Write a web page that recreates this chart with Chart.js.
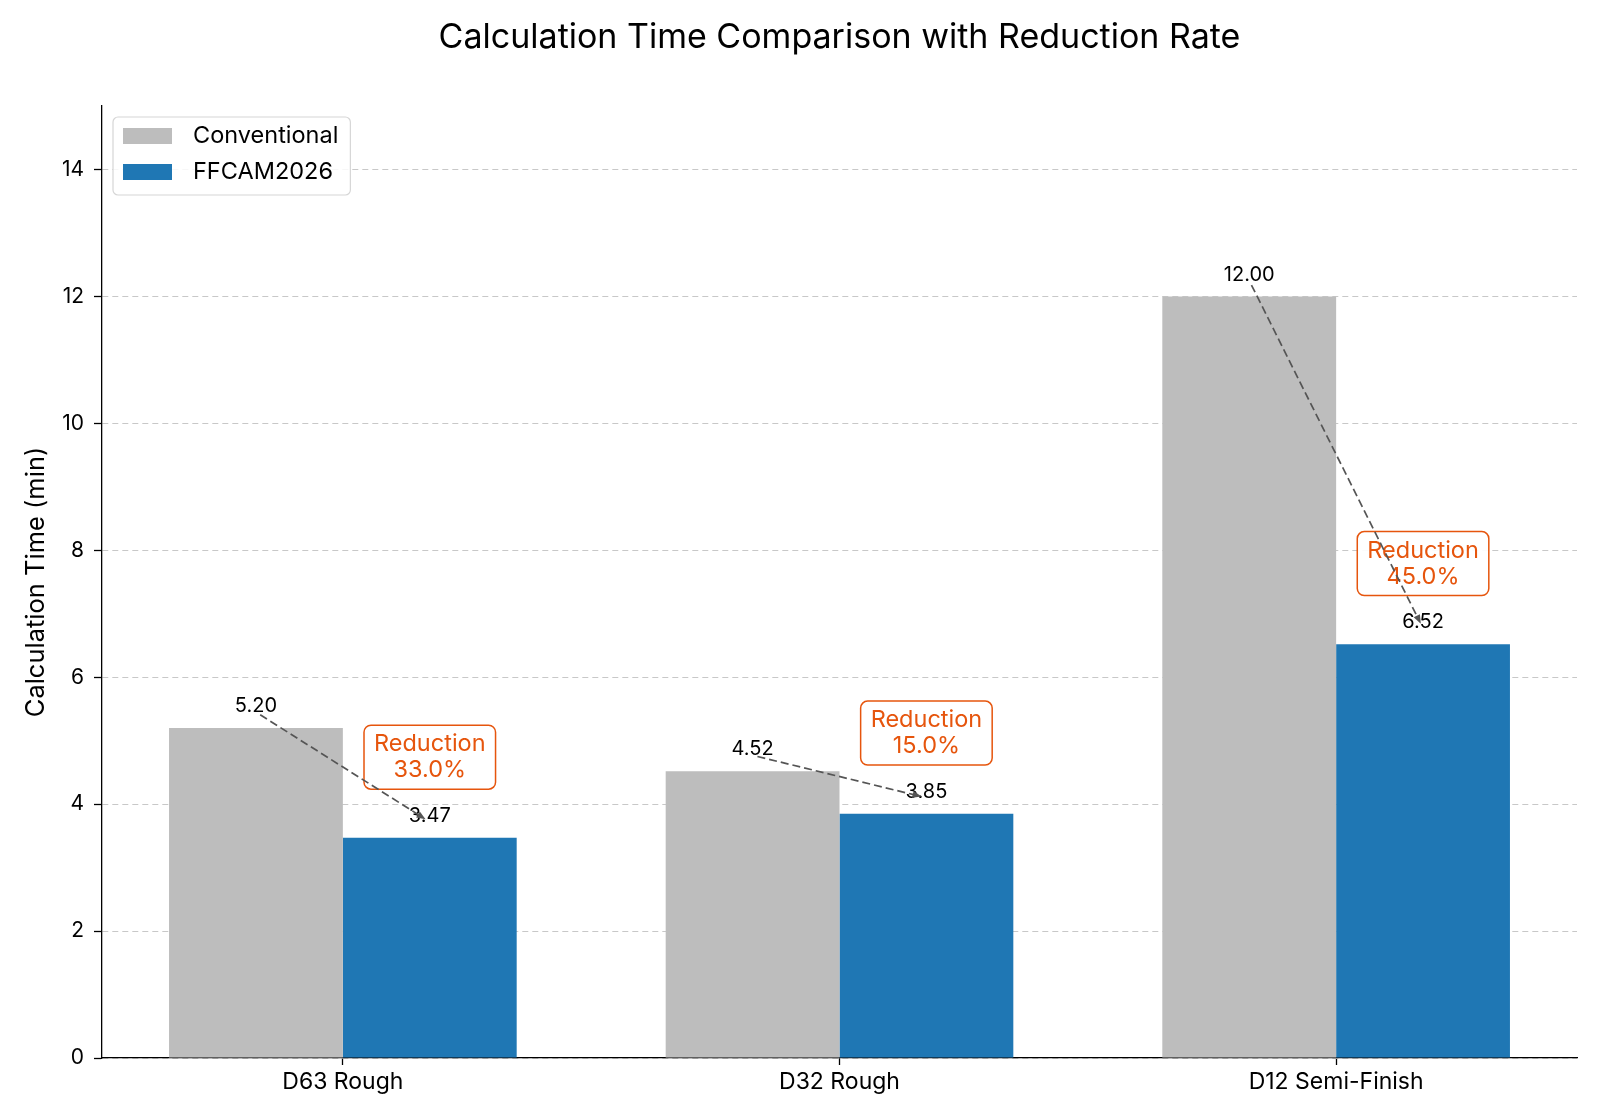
<!DOCTYPE html>
<html>
<head>
<meta charset="utf-8">
<title>Calculation Time Comparison with Reduction Rate</title>
<script src="https://cdn.jsdelivr.net/npm/chart.js@4.4.1/dist/chart.umd.min.js"></script>
<style>
  html, body { margin: 0; padding: 0; background: #fff; }
  #wrap { width: 1600px; height: 1120px; }
</style>
</head>
<body>
<div id="wrap"><canvas id="chart" width="1600" height="1120"></canvas></div>
<script>
// values
const categories = ['D63 Rough', 'D32 Rough', 'D12 Semi-Finish'];
const seriesNames = ['Conventional', 'FFCAM2026'];
const conventional = [5.20, 4.52, 12.00];
const ffcam = [3.47, 3.85, 6.52];
const reductionPct = [33.0, 15.0, 45.0];
const yTicks = [0, 2, 4, 6, 8, 10, 12, 14];

const FONT = 'Inter, "Open Sans", sans-serif';
const GRAY = '#bdbdbd';
const BLUE = '#1f77b4';
const ORANGE = '#e6550d';

function dashedArrow(ctx, x1, y1, x2, y2) {
  const dx = x2 - x1, dy = y2 - y1;
  const len = Math.hypot(dx, dy);
  const ux = dx / len, uy = dy / len;
  const sx = x1 + ux * 5, sy = y1 + uy * 5;
  const ex = x2 - ux * 5, ey = y2 - uy * 5;
  ctx.strokeStyle = '#555555';
  ctx.fillStyle = '#555555';
  ctx.lineWidth = 1.7;
  ctx.setLineDash([8, 4]);
  ctx.beginPath();
  ctx.moveTo(sx, sy);
  ctx.lineTo(ex - ux * 6, ey - uy * 6);
  ctx.stroke();
  ctx.setLineDash([]);
  // small arrow head
  ctx.beginPath();
  ctx.moveTo(ex, ey);
  ctx.lineTo(ex - ux * 9 - uy * 3.5, ey - uy * 9 + ux * 3.5);
  ctx.lineTo(ex - ux * 9 + uy * 3.5, ey - uy * 9 - ux * 3.5);
  ctx.closePath();
  ctx.fill();
}

const annotations = {
  id: 'annotations',
  afterDatasetsDraw(chart) {
    const ctx = chart.ctx;
    const y = chart.scales.y;
    const convBars = chart.getDatasetMeta(0).data;
    const newBars = chart.getDatasetMeta(1).data;
    ctx.save();

    // value labels above the bars
    ctx.font = '20px ' + FONT;
    ctx.fillStyle = '#000';
    ctx.textAlign = 'center';
    ctx.textBaseline = 'alphabetic';
    categories.forEach((c, i) => {
      ctx.fillText(conventional[i].toFixed(2), convBars[i].x, y.getPixelForValue(conventional[i] + 0.25));
      ctx.fillText(ffcam[i].toFixed(2), newBars[i].x, y.getPixelForValue(ffcam[i] + 0.25));
    });

    // reduction boxes
    ctx.font = '23.5px ' + FONT;
    categories.forEach((c, i) => {
      const cx = newBars[i].x;
      const cy = y.getPixelForValue(ffcam[i] + 1.27);
      const l1 = 'Reduction';
      const l2 = reductionPct[i].toFixed(1) + '%';
      const w = Math.max(ctx.measureText(l1).width, ctx.measureText(l2).width) + 20;
      const h = 64;
      ctx.beginPath();
      ctx.roundRect(cx - w / 2, cy - h / 2, w, h, 7);
      ctx.fillStyle = 'rgba(255,255,255,0.92)';
      ctx.fill();
      ctx.strokeStyle = ORANGE;
      ctx.lineWidth = 1.5;
      ctx.stroke();
      ctx.fillStyle = ORANGE;
      ctx.textBaseline = 'middle';
      ctx.fillText(l1, cx, cy - 13);
      ctx.fillText(l2, cx, cy + 13);
    });

    // dashed arrows from conventional to FFCAM labels
    categories.forEach((c, i) => {
      dashedArrow(ctx,
        convBars[i].x, y.getPixelForValue(conventional[i] + 0.25),
        newBars[i].x, y.getPixelForValue(ffcam[i] + 0.25));
    });
    ctx.restore();
  },
  afterDraw(chart) {
    const ctx = chart.ctx;
    const area = chart.chartArea;
    ctx.save();

    // legend box in the upper left corner
    ctx.font = '23.5px ' + FONT;
    const textW = Math.max(...seriesNames.map(s => ctx.measureText(s).width));
    const x0 = area.left + 11, y0 = area.top + 11;
    const w = 80 + textW + 12, h = 78;
    ctx.beginPath();
    ctx.roundRect(x0, y0, w, h, 5);
    ctx.fillStyle = 'rgba(255,255,255,0.85)';
    ctx.fill();
    ctx.strokeStyle = '#d6d6d6';
    ctx.lineWidth = 1.2;
    ctx.stroke();
    const colors = [GRAY, BLUE];
    seriesNames.forEach((s, i) => {
      const cy = y0 + 19 + i * 36;
      ctx.fillStyle = colors[i];
      ctx.fillRect(x0 + 10, cy - 8, 49, 16);
      ctx.fillStyle = '#000';
      ctx.textAlign = 'left';
      ctx.textBaseline = 'middle';
      ctx.fillText(s, x0 + 80, cy);
    });

    // title centred over the plot
    ctx.font = '34px ' + FONT;
    ctx.fillStyle = '#000';
    ctx.textAlign = 'center';
    ctx.textBaseline = 'middle';
    ctx.fillText('Calculation Time Comparison with Reduction Rate', (area.left + area.right) / 2, 38);
    ctx.restore();
  }
};

new Chart(document.getElementById('chart'), {
  type: 'bar',
  data: {
    datasets: [
      {
        label: seriesNames[0],
        data: conventional.map((v, i) => ({ x: i, y: v })),
        backgroundColor: GRAY
      },
      {
        label: seriesNames[1],
        data: ffcam.map((v, i) => ({ x: i, y: v })),
        backgroundColor: BLUE
      }
    ]
  },
  options: {
    responsive: false,
    animation: false,
    devicePixelRatio: 1,
    categoryPercentage: 0.7,
    barPercentage: 1.0,
    layout: { padding: { top: 106, right: 23, left: 0, bottom: 0 } },
    plugins: {
      legend: { display: false },
      title: { display: false },
      tooltip: { enabled: false }
    },
    scales: {
      x: {
        type: 'linear',
        min: -0.485,
        max: 2.485,
        offset: false,
        afterBuildTicks: axis => { axis.ticks = categories.map((c, i) => ({ value: i })); },
        afterFit: axis => { axis.height = 62; },
        ticks: {
          autoSkip: false,
          maxRotation: 0,
          padding: 3,
          color: '#000',
          font: { family: FONT, size: 23 },
          callback: v => categories[v]
        },
        grid: {
          offset: false,
          drawOnChartArea: false,
          drawTicks: true,
          tickLength: 7,
          tickColor: '#000',
          tickWidth: 1.3
        },
        border: { display: true, color: '#000', width: 1.3 }
      },
      y: {
        min: 0,
        max: 15,
        afterBuildTicks: axis => { axis.ticks = yTicks.map(v => ({ value: v })); },
        afterFit: axis => { axis.width = 102; },
        ticks: {
          padding: 10,
          color: '#000',
          font: { family: FONT, size: 21 }
        },
        title: {
          display: true,
          text: 'Calculation Time (min)',
          color: '#000',
          font: { family: FONT, size: 25.5 },
          padding: { top: 21, bottom: 0 }
        },
        grid: {
          color: '#c8c8c8',
          lineWidth: 1,
          tickLength: 8,
          tickColor: '#000',
          tickWidth: 1.3,
          tickBorderDash: []
        },
        border: { display: true, color: '#000', width: 1.3, dash: [6, 4] }
      }
    }
  },
  plugins: [annotations]
});
</script>
</body>
</html>
